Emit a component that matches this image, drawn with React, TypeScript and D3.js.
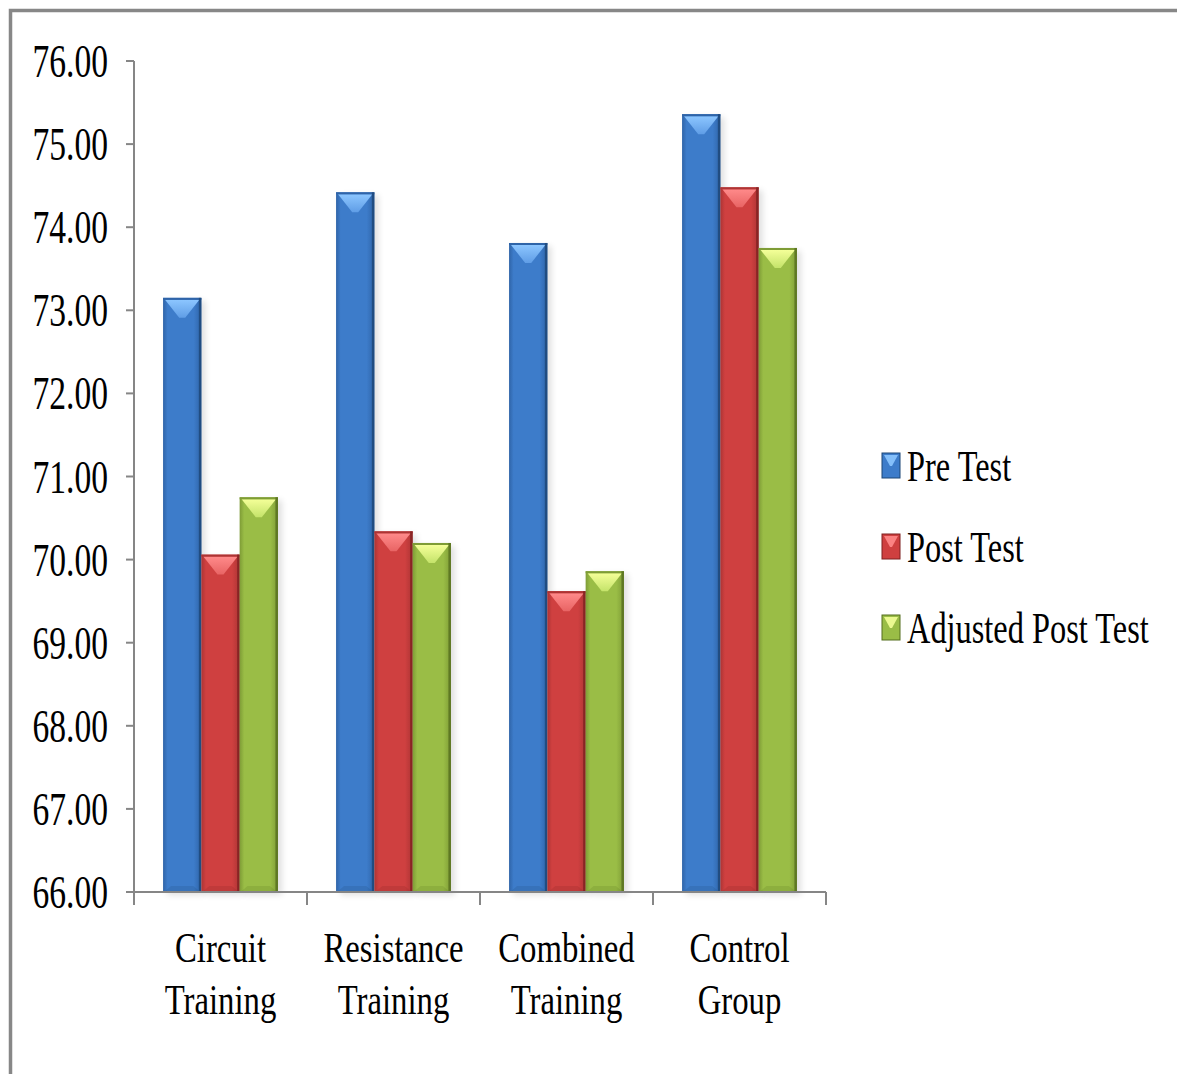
import React from "react";
import * as d3 from "d3";

const categories = ["Circuit Training", "Resistance Training", "Combined Training", "Control Group"];
const seriesNames = ["Pre Test", "Post Test", "Adjusted Post Test"];
const preTest = [73.15, 74.42, 73.81, 75.36];
const postTest = [70.06, 70.34, 69.62, 74.48];
const adjustedPostTest = [70.75, 70.2, 69.86, 73.75];
const yTicks = [66, 67, 68, 69, 70, 71, 72, 73, 74, 75, 76];

const seriesValues = [preTest, postTest, adjustedPostTest];

const palette = [
  { base: "#3d7cca", light: "#8cc6ff", mid: "#5f9de6", dark: "#1d4677", edge: "#2f64a8" },
  { base: "#cf4040", light: "#ff8a8a", mid: "#e86464", dark: "#7e2020", edge: "#ad3434" },
  { base: "#9abd46", light: "#f4ff98", mid: "#c4e36a", dark: "#556e1e", edge: "#7e9c36" },
];

const W = 1177;
const H = 1074;
const plot = { left: 134, right: 826, top: 61, bottom: 892 };
const FONT = "Liberation Serif, Times New Roman, serif";

function Bevel({ x, y, w, h, c, id }: { x: number; y: number; w: number; h: number; c: typeof palette[0]; id: number }) {
  const tri = Math.min(20, h / 2);
  return (
    <g>
      <rect x={x} y={y} width={w} height={h} fill={`url(#side-${id})`} />
      <polygon
        points={`${x + 2},${y + 2} ${x + w - 2},${y + 2} ${x + w / 2 + 3},${y + tri} ${x + w / 2 - 3},${y + tri}`}
        fill={`url(#top-${id})`}
      />
      <polygon
        points={`${x + 2},${y + h - 1} ${x + w - 2},${y + h - 1} ${x + w - 8},${y + h - 6} ${x + 8},${y + h - 6}`}
        fill={c.dark}
        opacity={0.18}
      />
      <rect x={x} y={y} width={w} height={2} fill={c.edge} />
      <rect x={x + w - 2.5} y={y} width={2.5} height={h} fill={c.dark} opacity={0.8} />
    </g>
  );
}

export default function App() {
  const x0 = d3.scaleBand<string>().domain(categories).range([plot.left, plot.right]).padding(0);
  const bw = x0.bandwidth();
  const x1 = d3
    .scaleBand<string>()
    .domain(seriesNames)
    .range([bw * 0.168, bw * 0.832])
    .padding(0);
  const y = d3.scaleLinear().domain([66, 76]).range([plot.bottom, plot.top]);
  const fmt = d3.format(".2f");

  const boundaries = [...categories.map((c) => x0(c) as number), plot.right];

  const legendY = [466, 547, 628];

  return (
    <svg width={W} height={H} style={{ position: "absolute", left: 0, top: 0, background: "#fff" }}>
      <defs>
        {palette.map((c, i) => (
          <React.Fragment key={i}>
            <linearGradient id={`side-${i}`} x1="0" x2="1" y1="0" y2="0">
              <stop offset="0" stopColor={c.edge} />
              <stop offset="0.12" stopColor={c.base} />
              <stop offset="0.8" stopColor={c.base} />
              <stop offset="1" stopColor={c.edge} />
            </linearGradient>
            <linearGradient id={`top-${i}`} x1="0" x2="0" y1="0" y2="1">
              <stop offset="0" stopColor={c.light} />
              <stop offset="1" stopColor={c.mid} />
            </linearGradient>
          </React.Fragment>
        ))}
        <filter id="shadow" x="-30%" y="-10%" width="160%" height="120%">
          <feGaussianBlur stdDeviation="3" />
        </filter>
      </defs>

      <rect x={10.5} y={10.5} width={W + 20} height={H + 20} fill="none" stroke="#878787" strokeWidth={3.5} />

      {/* bar shadows and bars */}
      {categories.map((cat, ci) => (
        <g key={cat}>
          {seriesNames.map((s, si) => {
            const v = seriesValues[si][ci];
            const bx = (x0(cat) as number) + (x1(s) as number);
            const by = y(v);
            const bh = plot.bottom - by;
            return (
              <rect
                key={"sh" + s}
                x={bx + 4}
                y={by + 3}
                width={x1.bandwidth()}
                height={bh}
                fill="#000"
                opacity={0.12}
                filter="url(#shadow)"
              />
            );
          })}
          {seriesNames.map((s, si) => {
            const v = seriesValues[si][ci];
            const bx = (x0(cat) as number) + (x1(s) as number);
            const by = y(v);
            return (
              <Bevel key={s} x={bx} y={by} w={x1.bandwidth()} h={plot.bottom - by} c={palette[si]} id={si} />
            );
          })}
        </g>
      ))}

      {/* y axis */}
      <line x1={plot.left} x2={plot.left} y1={plot.top} y2={plot.bottom} stroke="#868686" strokeWidth={2} />
      {yTicks.map((t) => (
        <g key={t} transform={`translate(0,${y(t)})`}>
          <line x1={plot.left - 8} x2={plot.left} y1={0} y2={0} stroke="#868686" strokeWidth={2} />
          <text
            transform={`translate(108,16) scale(0.73,1)`}
            textAnchor="end"
            fontFamily={FONT}
            fontSize={46}
            fill="#000"
          >
            {fmt(t)}
          </text>
        </g>
      ))}

      {/* x axis */}
      <line x1={plot.left} x2={plot.right} y1={plot.bottom} y2={plot.bottom} stroke="#868686" strokeWidth={2} />
      {boundaries.map((bx, i) => (
        <line key={i} x1={bx} x2={bx} y1={plot.bottom} y2={plot.bottom + 13} stroke="#868686" strokeWidth={2} />
      ))}
      {categories.map((cat) => {
        const cx = (x0(cat) as number) + bw / 2;
        const words = cat.split(" ");
        return (
          <g key={cat}>
            {words.map((w, wi) => (
              <text
                key={wi}
                transform={`translate(${cx},${962 + wi * 52}) scale(0.78,1)`}
                textAnchor="middle"
                fontFamily={FONT}
                fontSize={42}
                fill="#000"
              >
                {w}
              </text>
            ))}
          </g>
        );
      })}

      {/* legend */}
      {seriesNames.map((s, si) => {
        const ly = legendY[si];
        const c = palette[si];
        return (
          <g key={s}>
            <rect x={882} y={ly - 13} width={18} height={25} fill={c.base} stroke={c.dark} strokeWidth={1} />
            <polygon
              points={`${884},${ly - 11} ${898},${ly - 11} ${892},${ly} ${890},${ly}`}
              fill={c.light}
              opacity={0.9}
            />
            <text
              transform={`translate(907,${ly + 15}) scale(0.72,1)`}
              fontFamily={FONT}
              fontSize={45}
              fill="#000"
            >
              {s}
            </text>
          </g>
        );
      })}
    </svg>
  );
}
